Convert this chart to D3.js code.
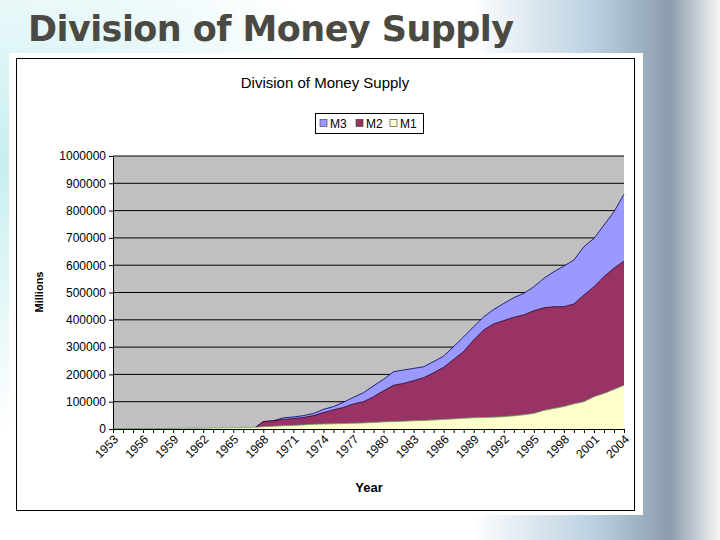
<!DOCTYPE html>
<html><head><meta charset="utf-8">
<script src="https://cdn.jsdelivr.net/npm/d3@7"></script>
<style>body{margin:0;width:720px;height:540px;overflow:hidden;font-family:Arial,"Liberation Sans",sans-serif;}</style>
</head><body><svg id="c" width="720" height="540"></svg>
<script>
const years = d3.range(1953, 2005);
const m1 = [2000,2000,2000,2000,2000,2000,2000,3000,3000,3000,4000,4000,5000,5000,6000,
  8000,10000,12000,13000,15000,17000,18000,19000,20000,21000,22000,24000,26000,27000,28000,30000,
  31000,33000,35000,37000,39000,41000,42000,43000,45000,48000,52000,57000,68000,75000,82000,92000,
  100000,118000,130000,145000,160000];
const m2 = [0,0,0,0,0,0,0,0,0,0,0,0,0,0,0,
  27000,30000,35000,38000,42000,49000,60000,70000,79000,92000,100000,118000,140000,160000,167000,177000,
  188000,206000,226000,255000,284000,326000,363000,385000,397000,409000,418000,433000,444000,448000,448000,458000,
  491000,521000,558000,589000,615000];
const m3 = [0,0,0,0,0,0,0,0,0,0,0,0,0,0,0,
  27000,30000,41000,44000,49000,57000,72000,82000,98000,116000,133000,158000,182000,210000,216000,222000,
  228000,247000,267000,302000,338000,375000,411000,438000,460000,481000,497000,521000,552000,576000,597000,619000,
  668000,698000,747000,796000,860000];
const yTicks = d3.range(0, 1000001, 100000);
const labelYears = d3.range(1953, 2005, 3);

const svg = d3.select("#c");
const defs = svg.append("defs");
const g1 = defs.append("radialGradient").attr("id","lg").attr("cx","0").attr("cy","0.3").attr("r","0.5");
g1.append("stop").attr("offset","0").attr("stop-color","#c8eef0");
g1.append("stop").attr("offset","1").attr("stop-color","#ffffff");
const g2 = defs.append("linearGradient").attr("id","rg").attr("x1","0").attr("x2","1");
g2.append("stop").attr("offset","0").attr("stop-color","#ffffff");
g2.append("stop").attr("offset","0.5").attr("stop-color","#a8c4d8");
g2.append("stop").attr("offset","0.8").attr("stop-color","#6f8499");
g2.append("stop").attr("offset","1").attr("stop-color","#f4f4f4");
svg.append("rect").attr("width",720).attr("height",540).attr("fill","url(#lg)");
svg.append("rect").attr("x",470).attr("width",250).attr("height",540).attr("fill","url(#rg)").attr("opacity",0.8);
svg.append("text").attr("x",28).attr("y",41).attr("font-size",35).attr("font-weight",900)
  .attr("fill","#4a4a42").attr("font-family","'DejaVu Sans',Arial,sans-serif")
  .attr("textLength",486).text("Division of Money Supply");
svg.append("rect").attr("x",9).attr("y",53).attr("width",634).attr("height",462).attr("fill","#fff");
svg.append("rect").attr("x",16.5).attr("y",58.5).attr("width",618).attr("height",452).attr("fill","#fff").attr("stroke","#000");

svg.append("text").attr("x",325).attr("y",88).attr("text-anchor","middle").attr("font-size",15).text("Division of Money Supply");
const lg = svg.append("g");
lg.append("rect").attr("x",315.5).attr("y",113.5).attr("width",108).attr("height",20).attr("fill","#fff").attr("stroke","#000");
[["M3","#9999ff",320],["M2","#993366",356],["M1","#ffffcc",390]].forEach(([t,c,x])=>{
  lg.append("rect").attr("x",x).attr("y",119.5).attr("width",7).attr("height",7).attr("fill",c).attr("stroke","#333").attr("stroke-width",0.6);
  lg.append("text").attr("x",x+10).attr("y",128).attr("font-size",12).text(t);
});

const x = d3.scaleLinear().domain([1953,2004]).range([113,624]);
const y = d3.scaleLinear().domain([0,1000000]).range([429,156]);
svg.append("rect").attr("x",113).attr("y",156).attr("width",511).attr("height",273).attr("fill","#c0c0c0");
svg.append("g").selectAll("line").data(yTicks.slice(1)).join("line")
  .attr("x1",113).attr("x2",624).attr("y1",d=>y(d)).attr("y2",d=>y(d)).attr("stroke","#000");
const area = d => d3.area().x((v,i)=>x(years[i])).y0(y(0)).y1(v=>y(v))(d);
const line = d => d3.line().x((v,i)=>x(years[i])).y(v=>y(v))(d);
[[m3,"#9999ff","#000066"],[m2,"#993366","#33001a"],[m1,"#ffffcc","#66aa66"]].forEach(([d,c,s])=>{
  svg.append("path").attr("d",area(d)).attr("fill",c);
  svg.append("path").attr("d",line(d)).attr("fill","none").attr("stroke",s).attr("stroke-width",0.8);
});
const ya = svg.append("g").attr("transform","translate(113,0)").call(d3.axisLeft(y).tickValues(yTicks).tickSize(4).tickFormat(d3.format("d")));
ya.selectAll("text").attr("font-size",12).attr("font-family","Arial,'Liberation Sans',sans-serif").attr("fill","#000");
ya.select(".domain").attr("stroke","#000");
const xa = svg.append("g").attr("transform","translate(0,429)").call(d3.axisBottom(x).tickValues(years).tickSize(4).tickFormat(""));
xa.select(".domain").attr("stroke","#000");
svg.append("g").selectAll("text").data(labelYears).join("text")
  .attr("transform",d=>`translate(${x(d)+6},${440}) rotate(-45)`).attr("text-anchor","end")
  .attr("font-size",12).text(d=>d);
svg.append("text").attr("x",369).attr("y",492).attr("text-anchor","middle").attr("font-size",13).attr("font-weight","bold").text("Year");
svg.append("text").attr("transform","translate(43,292) rotate(-90)").attr("text-anchor","middle").attr("font-size",11).attr("font-weight","bold").text("Millions");
</script></body></html>
